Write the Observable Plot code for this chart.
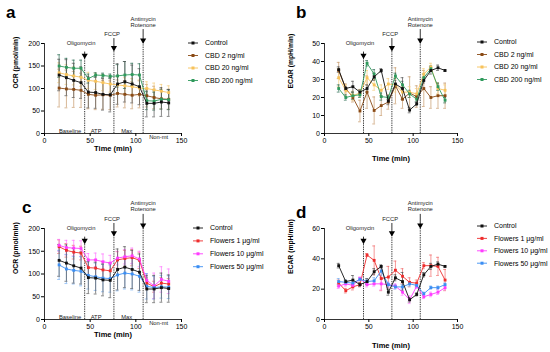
<!DOCTYPE html>
<html><head><meta charset="utf-8">
<script src="https://cdn.jsdelivr.net/npm/d3@7"></script>
<script src="https://cdn.jsdelivr.net/npm/@observablehq/plot@0.6"></script>
<style>
body{margin:0;background:#fff;}
#wrap{position:relative;width:550px;height:352px;overflow:hidden;background:#fff;font-family:"Liberation Sans",Arial,Helvetica,sans-serif;}
.panel{position:absolute;}
</style></head><body><div id="wrap"></div>
<script>
// ---- data ----
const time = [16,24,32,40,48,56,64,72,80,88,96,104,112,120,128,136];
const injTimes = [44,76,108];
const injNames = ["Oligomycin","FCCP","Antimycin\nRotenone"];
const injLabelTime = [40,74,108];
const phaseNames = ["Baseline","ATP","Max","Non-mt"];
const phaseTime = [28,56.5,90,125];

const ocrControl    = [130,124,118,113,92,91,87,86,110,115,110,104,67,67,70,68];
const ocrControlErr = [35,40,38,35,35,35,35,38,45,45,42,40,30,30,32,30];
const ocrCBD2       = [101,99,98,96,87,85,86,85,89,87,85,87,84,80,77,76];
const ocrCBD2Err    = [42,42,40,38,32,32,32,32,30,30,30,30,25,25,22,22];
const ocrCBD20      = [135,131,128,125,118,116,113,110,108,106,104,101,100,97,94,91];
const ocrCBD20Err   = [22,22,20,20,18,18,18,18,18,18,18,18,15,15,15,15];
const ocrCBD200     = [150,147,145,145,122,130,129,127,128,130,131,130,73,72,76,75];
const ocrCBD200Err  = [25,20,18,18,10,5,5,5,25,30,25,25,20,20,22,22];

const ocrF1     = [160,152,148,146,114,113,109,107,131,134,136,130,80,72,80,78];
const ocrF1Err  = [15,15,15,15,18,18,18,18,18,18,18,18,12,12,12,12];
const ocrF10    = [163,158,157,156,131,131,127,124,135,138,140,133,86,74,88,84];
const ocrF10Err = [13,16,17,17,14,15,17,17,15,16,17,17,15,28,28,27];
const ocrF50    = [120,111,108,106,97,94,91,90,98,102,100,95,73,70,72,71];
const ocrF50Err = [32,32,30,32,30,30,30,30,35,35,35,35,28,25,25,25];

const ecarControl    = [35.5,25,26,23,25,31.5,35,18,27.5,25,13,16.5,29.5,35,36.5,35];
const ecarControlErr = [1.5,1,3,1.2,2,2,1,2,2,6,1.5,1,1.5,2,1.5,0.5];
const ecarCBD2       = [35,25,20,12.5,23,12.8,15.5,17.5,26.5,19,22.5,20.5,25,20,21,21];
const ecarCBD2Err    = [4.5,2.5,2.5,6,9,7.5,5.5,4,10,5,9,6,10,6,7,7];
const ecarCBD20      = [31,24,21,22.5,31,27,24,27.5,27,23,23,22,33,37,25,24];
const ecarCBD20Err   = [5,3,2.5,2,4,3,3,3,4,3,3,3,3,2,3,3];
const ecarCBD200     = [25,20,21,21.5,39,33,20.5,20,32,27,22,19,31,36,26,18.5];
const ecarCBD200Err  = [2,1.5,2,1.5,1.5,2.5,2,1,1.5,2,2,1.5,2,1.5,2,1.5];

const ecarF1     = [24,19,21.5,23,42.5,39,27,28,32.5,28.5,24.5,24,35.5,35.5,35,26];
const ecarF1Err  = [2,1.5,2,1.5,1,9.5,8,7,6,5,3,2,2,7,6,7];
const ecarF10    = [22,23.5,22.5,27,23,23.5,23.5,23,22,18,13,22,15,16.5,18,21];
const ecarF10Err = [1.5,1.5,1,1,1.5,1.5,4,1.5,1.5,2,2.5,1.5,1.2,1.5,1.5,1.5];
const ecarF50    = [25,24.5,24,26.5,25,25.5,32,23,21.5,21.5,23.5,22.5,17,21,21,23];
const ecarF50Err = [2,1.5,1.5,1,1.5,2,3,1.5,1.5,1.5,1.5,1.5,1,1,1,1];

const cbdNames = ["Control","CBD 2 ng/ml","CBD 20 ng/ml","CBD 200 ng/ml"];
const flowerNames = ["Control","Flowers 1 \u03bcg/ml","Flowers 10 \u03bcg/ml","Flowers 50 \u03bcg/ml"];
const cbdColors = ["#111111","#8a4a14","#f7c25a","#2f9a5c"];
const cbdErrColors = ["#555555","#c79a6a","#f5cf80","#2d6e55"];
const flowerColors = ["#111111","#ee2c2c","#ff3cff","#3b8ef3"];
const flowerErrColors = ["#555555","#f06a6a","#ff77ff","#74aef2"];

const ocrTicks = [0,50,100,150,200];
const ecarTicksB = [0,10,20,30,40,50];
const ecarTicksD = [0,20,40,60];

// ---- helpers ----
const FONT = '"Liberation Sans",Arial,Helvetica,sans-serif';
const wrap = document.getElementById("wrap");
const toRows = (vs, es) => time.map((t,i)=>({t, v: vs[i], e: es[i]}));

// fractions of y max for annotation geometry
const headFrac = [0.85,0.935,1.02];
const topFrac  = [0.905,1.055,1.155];
const labelFrac = [1.0,1.10,1.2425];

function panel(cfg){
  const {left, top, mL, fw, mT, fh, ymax, yticks, ylabel, series, names, colors, errColors, phases, xLabelDy} = cfg;
  const mR = 10;
  const W = mL + fw + mR, H = cfg.H;
  const inj = injTimes.map((t,i)=>({t, name: injNames[i], lx: injLabelTime[i],
      head: headFrac[i]*ymax, top: topFrac[i]*ymax, ly: labelFrac[i]*ymax}));
  const marks = [];
  // axes lines
  marks.push(Plot.ruleY([0], {stroke:"#000", strokeWidth:0.8}));
  marks.push(Plot.ruleX([0], {stroke:"#000", strokeWidth:0.8}));
  // injection lines
  marks.push(Plot.ruleX(inj, {x:"t", y1:0, y2:"head", stroke:"#000", strokeWidth:0.8, strokeDasharray:"1.3,1"}));
  marks.push(Plot.ruleX(inj, {x:"t", y1:"head", y2:"top", stroke:"#000", strokeWidth:0.8}));
  marks.push(Plot.dot(inj, {x:"t", y:"head", symbol:"triangle", rotate:180, r:2.3, fill:"#000", stroke:"none", dy:-1.5}));
  marks.push(Plot.text(inj, {x:"lx", y:"ly", text:"name", fontSize:5.8, lineHeight:1.05, fill:"#222"}));
  if (phases){
    const ph = phaseNames.map((n,i)=>({n, t: phaseTime[i], dy: i<3 ? -2.8 : 3.2}));
    marks.push(Plot.text(ph.slice(0,3), {x:"t", y:0, text:"n", fontSize:5.8, dy:-2.8, fill:"#222"}));
    marks.push(Plot.text(ph.slice(3), {x:"t", y:0, text:"n", fontSize:5.8, dy:3.4, fill:"#222"}));
  }
  const order = [1,2,3,0];
  const rowsAll = series.map(s=>toRows(s[0], s[1]));
  for (const k of order){
    const r = rowsAll[k];
    const c = errColors[k];
    marks.push(Plot.ruleX(r, {x:"t", y1:d=>d.v-d.e, y2:d=>d.v+d.e, stroke:c, strokeWidth:0.7}));
    marks.push(Plot.ruleY(r, {y:d=>d.v+d.e, x1:d=>d.t-1.6, x2:d=>d.t+1.6, stroke:c, strokeWidth:0.7}));
    marks.push(Plot.ruleY(r, {y:d=>d.v-d.e, x1:d=>d.t-1.6, x2:d=>d.t+1.6, stroke:c, strokeWidth:0.7}));
  }
  for (const k of order){
    const r = rowsAll[k];
    marks.push(Plot.line(r, {x:"t", y:"v", stroke:colors[k], strokeWidth:0.9}));
    marks.push(Plot.dot(r, {x:"t", y:"v", fill:colors[k], stroke:"none", symbol:"square", r:1.6}));
  }
  // axis labels
  marks.push(Plot.text(["Time (min)"], {frameAnchor:"bottom", dy:xLabelDy, fontSize:7.5, fontWeight:"bold", fill:"#000"}));
  marks.push(Plot.text([ylabel], {frameAnchor:"left", dx:-(mL-15), rotate:-90, fontSize:6.8, fontWeight:"bold", fill:"#000"}));

  const p = Plot.plot({
    width: W, height: H,
    marginLeft: mL, marginRight: mR, marginTop: mT, marginBottom: H - mT - fh,
    style: {fontFamily: FONT, fontSize: "7px", background: "transparent", overflow: "visible", color:"#000"},
    x: {domain:[0,150], ticks:[0,50,100,150], tickSize:3, tickPadding:2, label:null},
    y: {domain:[0,ymax], ticks:yticks, tickSize:3, tickPadding:1.5, label:null},
    marks
  });
  p.classList.add("panel");
  p.style.left = left + "px";
  p.style.top = top + "px";
  wrap.appendChild(p);

  // legend
  const lg = cfg.legend;
  const svg = d3.select(wrap).append("svg").attr("class","panel")
    .style("left", lg.x + "px").style("top", (lg.y - 6) + "px")
    .attr("width", 90).attr("height", 4*lg.step + 10);
  names.forEach((n,i)=>{
    const g = svg.append("g").attr("transform", `translate(0,${6 + i*lg.step})`);
    g.append("line").attr("x1",0).attr("x2",10).attr("y1",0).attr("y2",0).attr("stroke",colors[i]).attr("stroke-width",0.9);
    g.append("rect").attr("x",3.5).attr("y",-1.5).attr("width",3).attr("height",3).attr("fill",colors[i]);
    g.append("text").attr("x",17).attr("y",0).attr("dy","0.35em").attr("font-size",7).attr("font-family",FONT).attr("fill","#000").text(n);
  });
  // panel letter
  const L = cfg.letter;
  d3.select(wrap).append("svg").attr("class","panel").style("left","0px").style("top","0px")
    .attr("width",550).attr("height",352).style("pointer-events","none")
    .append("text").attr("x",L.x).attr("y",L.y).attr("font-size",17).attr("font-weight","bold")
    .attr("font-family",FONT).attr("fill","#000").text(L.t);
}

panel({left:0, top:0, H:176, mL:44, fw:137, mT:43, fh:90, ymax:200, yticks:ocrTicks, ylabel:"OCR (pmol/min)",
  series:[[ocrControl,ocrControlErr],[ocrCBD2,ocrCBD2Err],[ocrCBD20,ocrCBD20Err],[ocrCBD200,ocrCBD200Err]],
  names:cbdNames, colors:cbdColors, errColors:cbdErrColors, phases:true, xLabelDy:17.7,
  legend:{x:188, y:43.3, step:12.5}, letter:{t:"a", x:6, y:18}});

panel({left:275, top:0, H:176, mL:49, fw:133, mT:43, fh:90, ymax:50, yticks:ecarTicksB, ylabel:"ECAR (mpH/min)",
  series:[[ecarControl,ecarControlErr],[ecarCBD2,ecarCBD2Err],[ecarCBD20,ecarCBD20Err],[ecarCBD200,ecarCBD200Err]],
  names:cbdNames, colors:cbdColors, errColors:cbdErrColors, phases:false, xLabelDy:27,
  legend:{x:477, y:41.7, step:12.5}, letter:{t:"b", x:296, y:18}});

panel({left:0, top:176, H:176, mL:44, fw:137, mT:52, fh:91, ymax:200, yticks:ocrTicks, ylabel:"OCR (pmol/min)",
  series:[[ocrControl,ocrControlErr],[ocrF1,ocrF1Err],[ocrF10,ocrF10Err],[ocrF50,ocrF50Err]],
  names:flowerNames, colors:flowerColors, errColors:flowerErrColors, phases:true, xLabelDy:17.7,
  legend:{x:193, y:228, step:12.9}, letter:{t:"c", x:22, y:213}});

panel({left:275, top:176, H:176, mL:49, fw:133, mT:52, fh:91, ymax:60, yticks:ecarTicksD, ylabel:"ECAR (mpH/min)",
  series:[[ecarControl,ecarControlErr],[ecarF1,ecarF1Err],[ecarF10,ecarF10Err],[ecarF50,ecarF50Err]],
  names:flowerNames, colors:flowerColors, errColors:flowerErrColors, phases:false, xLabelDy:28,
  legend:{x:477, y:226, step:12.4}, letter:{t:"d", x:296, y:218}});
</script></body></html>
